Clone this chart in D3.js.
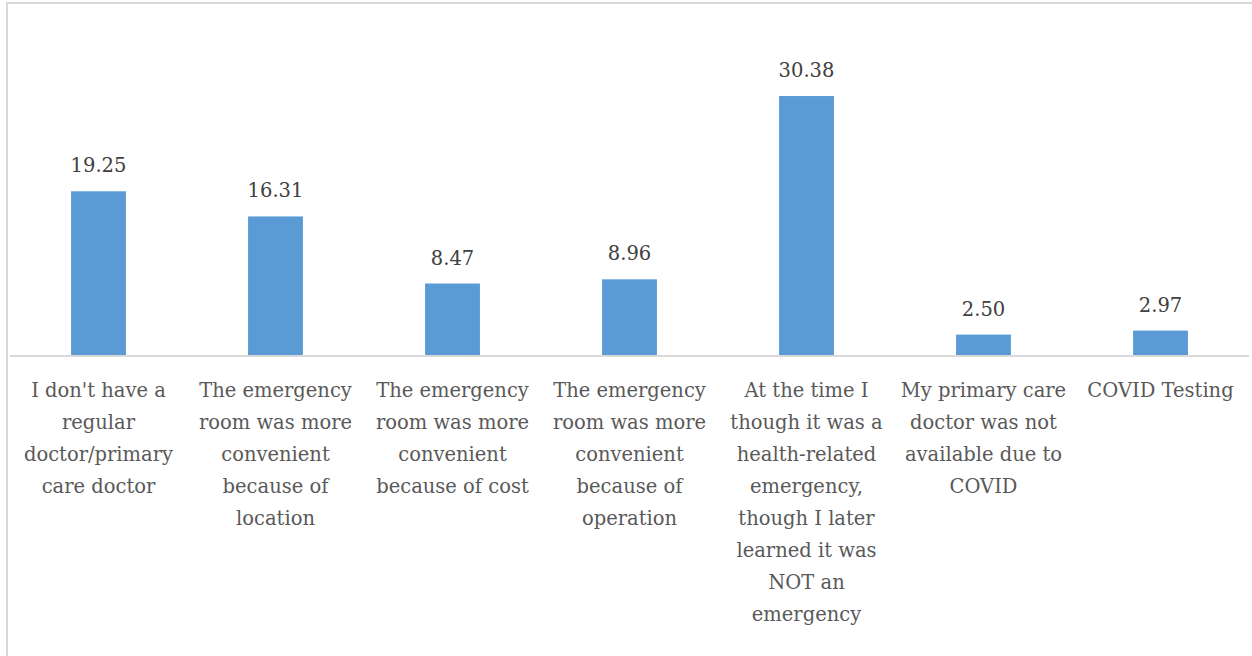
<!DOCTYPE html>
<html>
<head>
<meta charset="utf-8">
<script src="https://cdn.jsdelivr.net/npm/d3@7"></script>
<style>
  html, body { margin: 0; padding: 0; background: #fff; }
  svg { display: block; }
</style>
</head>
<body>
<svg id="chart" width="1252" height="656"></svg>
<script>
const categories = [
  ["I don't have a", "regular", "doctor/primary", "care doctor"],
  ["The emergency", "room was more", "convenient", "because of", "location"],
  ["The emergency", "room was more", "convenient", "because of cost"],
  ["The emergency", "room was more", "convenient", "because of", "operation"],
  ["At the time I", "though it was a", "health-related", "emergency,", "though I later", "learned it was", "NOT an", "emergency"],
  ["My primary care", "doctor was not", "available due to", "COVID"],
  ["COVID Testing"]
];
const values = [19.25, 16.31, 8.47, 8.96, 30.38, 2.50, 2.97];
const valueLabels = ["19.25", "16.31", "8.47", "8.96", "30.38", "2.50", "2.97"];
const yDomain = [0, 35];

const svg = d3.select("#chart");
const font = "'DejaVu Serif', serif";

// chart border
svg.append("rect").attr("x", 7).attr("y", 3).attr("width", 1260).attr("height", 700)
  .attr("fill", "none").attr("stroke", "#d9d9d9").attr("stroke-width", 2);

const x = d3.scaleBand().domain(d3.range(values.length)).range([10, 1249]).paddingInner(0.69).paddingOuter(0.345);
const y = d3.scaleLinear().domain(yDomain).range([356, 56.5]);

svg.append("g").selectAll("rect").data(values).join("rect")
  .attr("x", (d, i) => x(i)).attr("width", x.bandwidth())
  .attr("y", d => y(d)).attr("height", d => y(0) - y(d))
  .attr("fill", "#5b9bd5");

// baseline axis
const axis = d3.axisBottom(x).tickSize(0).tickFormat("");
const ag = svg.append("g").attr("transform", `translate(0,${y(0)})`).call(axis);
ag.select(".domain").attr("stroke", "#d9d9d9").attr("stroke-width", 2).attr("d", "M10,0H1249");

svg.append("g").selectAll("text").data(values).join("text")
  .attr("x", (d, i) => x(i) + x.bandwidth() / 2)
  .attr("y", d => y(d) - 19)
  .attr("text-anchor", "middle")
  .attr("font-family", font).attr("font-size", 19.5)
  .attr("fill", "#404040")
  .text((d, i) => valueLabels[i]);

const lab = svg.append("g").selectAll("text").data(categories).join("text")
  .attr("text-anchor", "middle")
  .attr("font-family", font).attr("font-size", 19.5)
  .attr("fill", "#595959");
lab.each(function(lines, i) {
  const t = d3.select(this);
  lines.forEach((ln, j) => {
    t.append("tspan").attr("x", x(i) + x.bandwidth() / 2).attr("y", 397 + j * 32).text(ln);
  });
});
</script>
</body>
</html>
